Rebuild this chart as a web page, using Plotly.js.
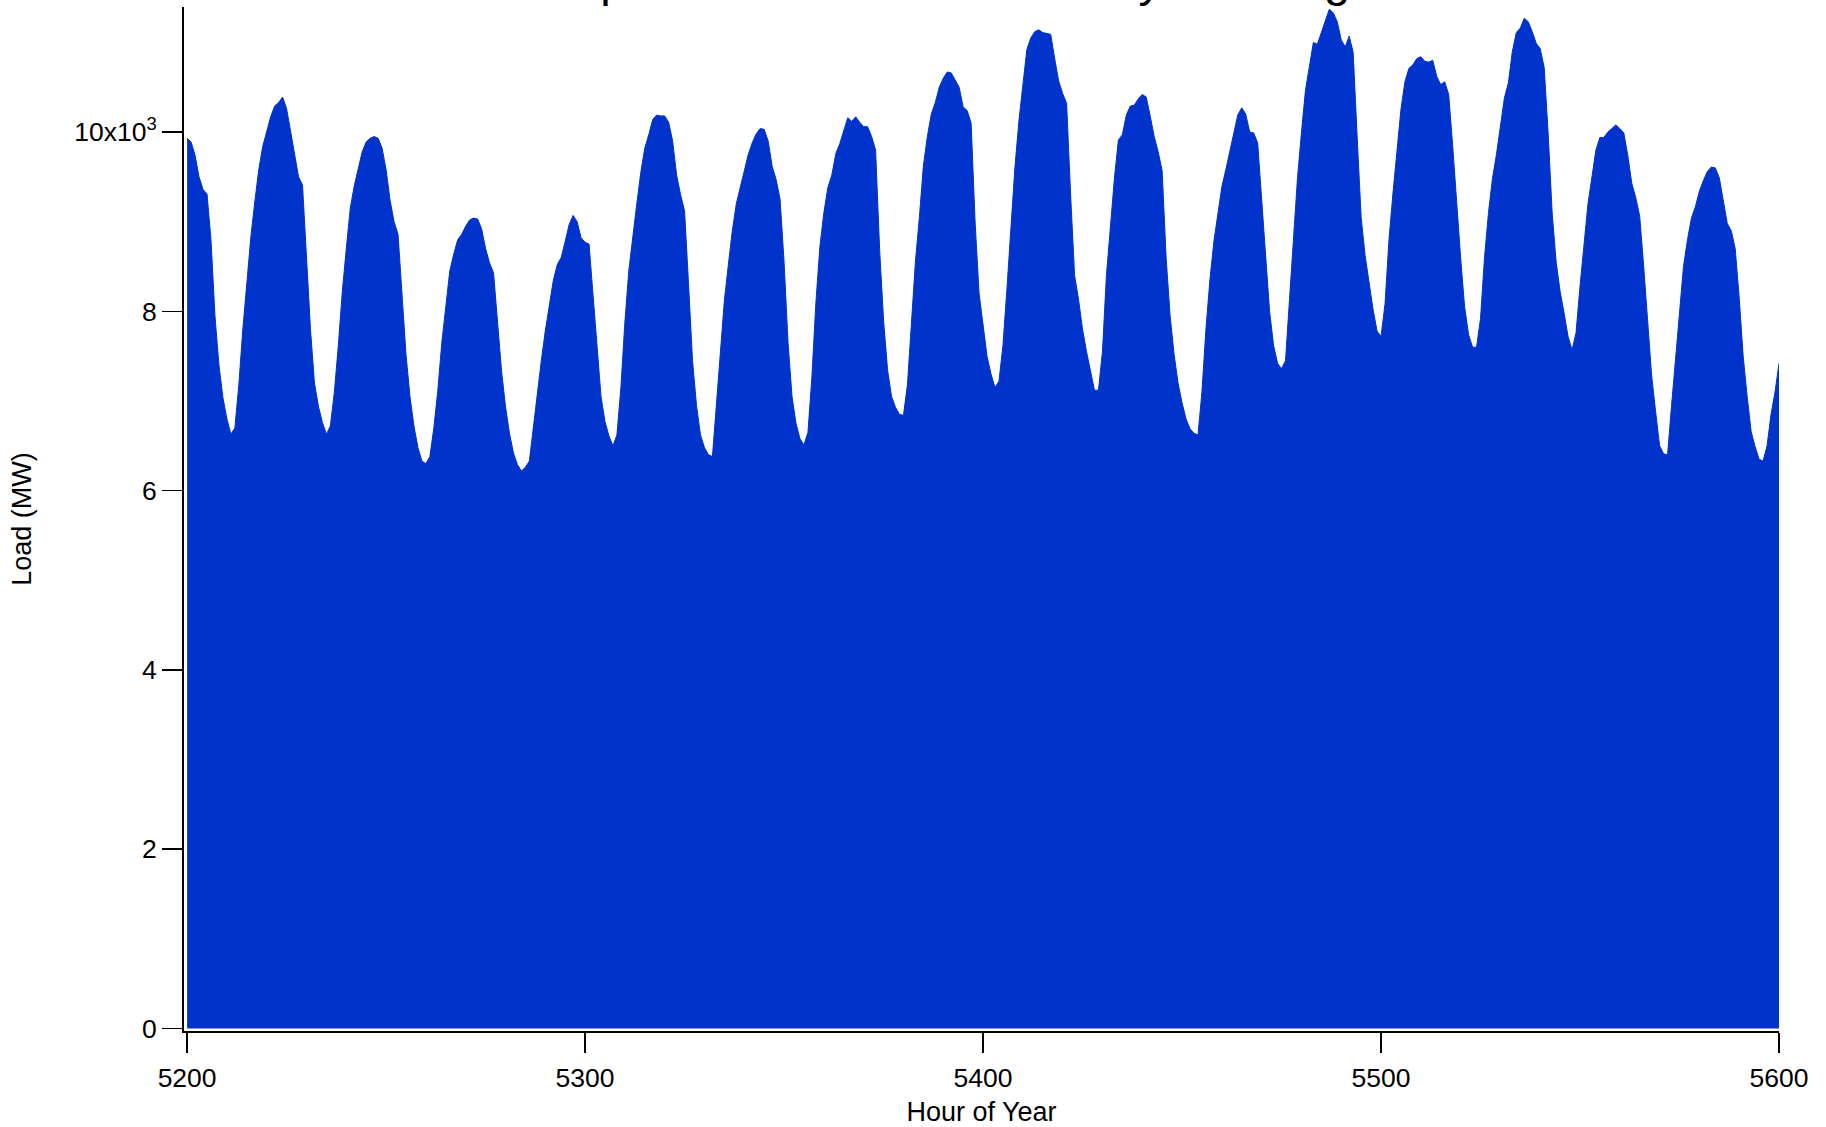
<!DOCTYPE html>
<html>
<head>
<meta charset="utf-8">
<script src="https://cdn.plot.ly/plotly-3.0.1.min.js"></script>
<style>html,body{margin:0;padding:0;background:#fff;}#chart{width:1826px;height:1127px;}</style>
</head>
<body>
<div id="chart"></div>
<script>
// Hourly load, hours 5200..5600 (MW)
var startHour = 5200;
var loadMW = [
 9930, 9890, 9740, 9500, 9360, 9310, 8800, 7950, 7400, 7040,
 6800, 6630, 6700, 7180, 7800, 8360, 8820, 9220, 9580, 9840,
 10020, 10170, 10290, 10330, 10390, 10260, 10010, 9750, 9500, 9410,
 8550, 7800, 7200, 6940, 6760, 6630, 6720, 7100, 7620, 8220,
 8700, 9150, 9400, 9600, 9780, 9890, 9930, 9950, 9930, 9820,
 9580, 9240, 9000, 8860, 8180, 7520, 7050, 6720, 6480, 6330,
 6300, 6380, 6700, 7120, 7650, 8050, 8450, 8640, 8800, 8860,
 8950, 9020, 9040, 9030, 8920, 8700, 8540, 8430, 7900, 7340,
 6940, 6640, 6420, 6290, 6220, 6260, 6330, 6720, 7120, 7450,
 7780, 8080, 8340, 8520, 8600, 8780, 8970, 9070, 9000, 8820,
 8770, 8750, 8170, 7550, 7050, 6770, 6610, 6500, 6620, 7150,
 7880, 8460, 8850, 9200, 9550, 9820, 9970, 10140, 10190, 10180,
 10180, 10110, 9900, 9520, 9300, 9120, 8300, 7450, 6950, 6620,
 6480, 6400, 6380, 6950, 7600, 8120, 8520, 8900, 9200, 9380,
 9550, 9750, 9880, 9980, 10040, 10030, 9900, 9620, 9470, 9250,
 8550, 7650, 7050, 6750, 6580, 6510, 6650, 7270, 8100, 8720,
 9100, 9380, 9520, 9760, 9870, 10030, 10160, 10120, 10170, 10110,
 10060, 10060, 9950, 9800, 8700, 7900, 7350, 7050, 6930, 6850,
 6840, 7180, 7900, 8550, 9050, 9620, 9950, 10200, 10330, 10500,
 10600, 10670, 10660, 10580, 10500, 10280, 10240, 10100, 9000, 8200,
 7850, 7500, 7300, 7150, 7220, 7620, 8250, 8950, 9600, 10120,
 10550, 10920, 11050, 11120, 11140, 11110, 11100, 11090, 10820, 10570,
 10430, 10320, 9300, 8400, 8130, 7800, 7550, 7320, 7120, 7120,
 7550, 8400, 8980, 9480, 9910, 9970, 10190, 10290, 10300, 10370,
 10420, 10390, 10180, 9950, 9780, 9570, 8600, 7950, 7520, 7200,
 6980, 6800, 6690, 6640, 6620, 7100, 7800, 8350, 8780, 9090,
 9390, 9580, 9780, 10000, 10190, 10270, 10200, 10000, 9990, 9880,
 9240, 8520, 8000, 7620, 7420, 7360, 7450, 8130, 8870, 9480,
 9990, 10460, 10730, 11000, 10980, 11110, 11250, 11370, 11330, 11230,
 11030, 10950, 11070, 10890, 9950, 9050, 8620, 8300, 8020, 7780,
 7720, 8080, 8800, 9320, 9820, 10250, 10560, 10710, 10750, 10820,
 10840, 10790, 10780, 10800, 10620, 10530, 10560, 10420, 9850, 9200,
 8600, 8050, 7740, 7600, 7600, 7920, 8600, 9100, 9480, 9750,
 10080, 10380, 10550, 10900, 11110, 11160, 11270, 11230, 11120, 10990,
 10930, 10720, 9980, 9100, 8550, 8220, 7980, 7720, 7570, 7760,
 8280, 8720, 9200, 9500, 9800, 9940, 9940, 10000, 10040, 10080,
 10040, 9990, 9740, 9430, 9270, 9060, 8500, 7850, 7280, 6880,
 6500, 6410, 6400, 6950, 7500, 8050, 8500, 8800, 9040, 9170,
 9340, 9460, 9560, 9610, 9600, 9490, 9220, 8980, 8900, 8700,
 8150, 7500, 7050, 6660, 6490, 6350, 6330, 6500, 6850, 7100,
 7420
];
var xTickVals = [5200, 5300, 5400, 5500, 5600];
var xTickText = ['5200', '5300', '5400', '5500', '5600'];
var yTickVals = [0, 2000, 4000, 6000, 8000, 10000];
var yTickText = ['0', '2', '4', '6', '8', '10x10<sup>3</sup>'];
var chartTitle = 'Summer Sample of Electric Load: Hourly Readings';
var xTitle = 'Hour of Year';
var yTitle = 'Load (MW)';

var W = 1826, H = 1127;
var FONT = 'Liberation Sans, Arial, Helvetica, sans-serif';
var BLUE = '#0033cc';

var trace = {
  type: 'scatter',
  mode: 'lines',
  x0: startHour,
  dx: 1,
  y: loadMW,
  fill: 'tozeroy',
  fillcolor: BLUE,
  line: {color: BLUE, width: 1},
  hoverinfo: 'skip'
};

var layout = {
  width: W, height: H,
  margin: {l: 184, r: 47, t: 7, b: 96, pad: 0},
  paper_bgcolor: '#ffffff',
  plot_bgcolor: '#ffffff',
  showlegend: false,
  font: {family: FONT, color: '#000000'},
  title: {
    text: chartTitle,
    font: {family: FONT, size: 47, color: '#000000'},
    xref: 'container', x: 313 / W, xanchor: 'left',
    yref: 'container', y: 1, yanchor: 'bottom',
    pad: {t: 0, b: 4, l: 0, r: 0}
  },
  xaxis: {
    range: [5199.22, 5600],
    tickvals: xTickVals, ticktext: xTickText,
    ticks: 'outside', ticklen: 20, tickwidth: 1.5, tickcolor: '#000000',
    showline: true, linecolor: '#000000', linewidth: 2,
    showgrid: false, zeroline: false,
    ticklabelstandoff: 2,
    tickfont: {family: FONT, size: 26.5, color: '#000000'},
    title: {text: xTitle, font: {family: FONT, size: 27, color: '#000000'}, standoff: 20}
  },
  yaxis: {
    range: [-28, 11395],
    tickvals: yTickVals, ticktext: yTickText,
    ticks: 'outside', ticklen: 20, tickwidth: 1.5, tickcolor: '#000000',
    showline: true, linecolor: '#000000', linewidth: 2,
    showgrid: false, zeroline: false,
    tickfont: {family: FONT, size: 26.5, color: '#000000'},
    title: {text: yTitle, font: {family: FONT, size: 27, color: '#000000'}, standoff: 35}
  }
};

Plotly.newPlot('chart', [trace], layout, {staticPlot: true, displayModeBar: false});
</script>
</body>
</html>
